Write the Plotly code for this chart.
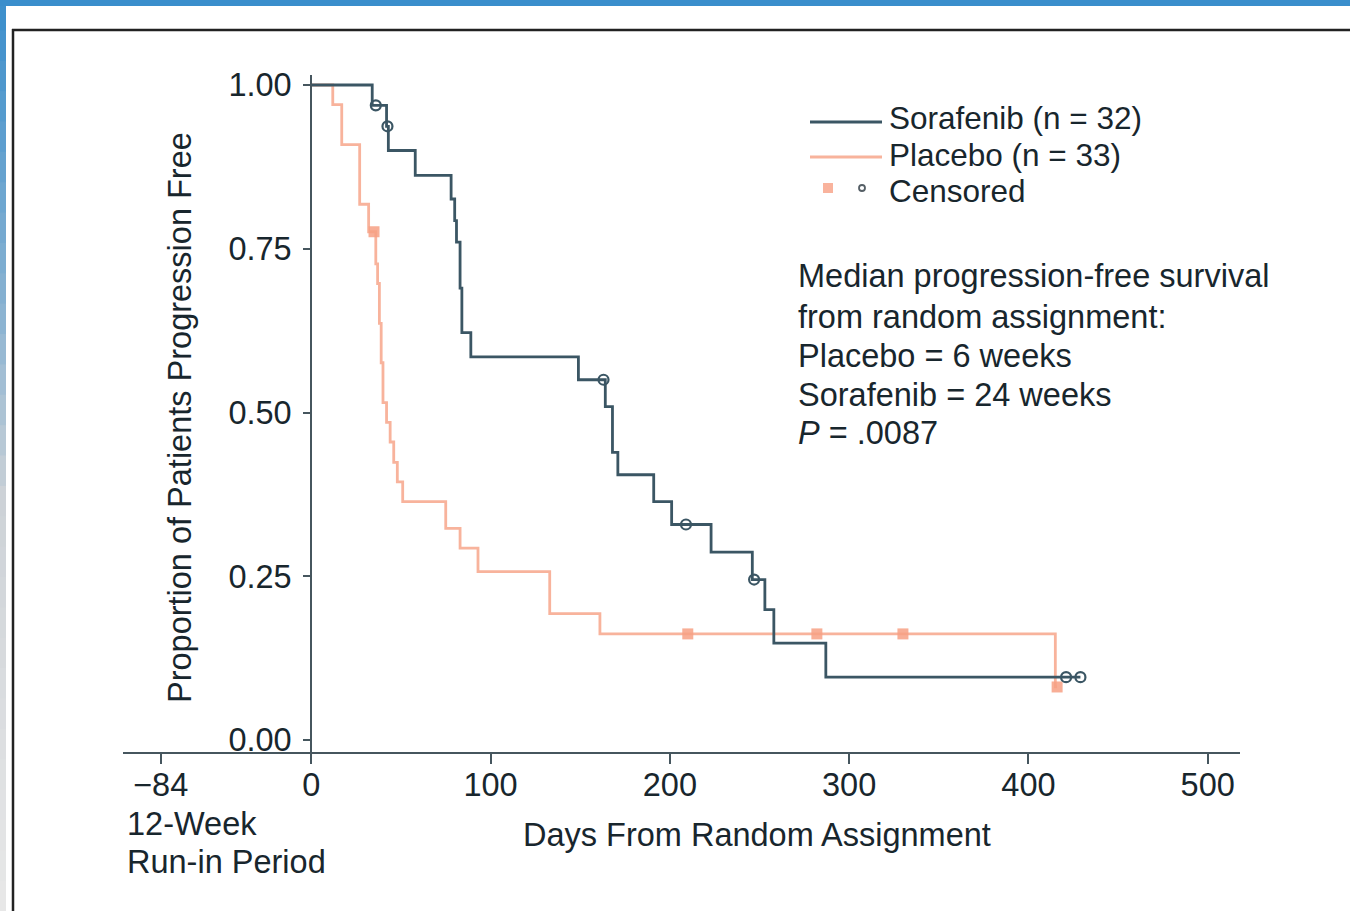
import plotly.graph_objects as go

# ---------------- data ----------------
soraf_time = [0, 34, 42, 43, 58, 78, 80, 81, 83, 84, 89, 149, 164, 168, 171, 191, 201, 223, 246, 253, 258, 287, 429]
soraf_surv = [1.0, 0.969, 0.937, 0.900, 0.862, 0.826, 0.793, 0.760, 0.690, 0.622, 0.585, 0.550, 0.509, 0.439,
              0.405, 0.364, 0.329, 0.287, 0.245, 0.199, 0.148, 0.096, 0.096]
soraf_cens_time = [36, 42.5, 163, 209, 247, 421, 429]
soraf_cens_surv = [0.969, 0.937, 0.550, 0.329, 0.245, 0.096, 0.096]

plac_time = [0, 12, 17, 27, 32, 36, 37, 38, 39, 40, 42, 44, 46, 48, 51, 75, 83, 93, 133, 161, 415, 416]
plac_surv = [1.0, 0.970, 0.909, 0.818, 0.776, 0.727, 0.697, 0.636, 0.576, 0.515, 0.485, 0.455, 0.424, 0.394,
             0.364, 0.323, 0.293, 0.257, 0.193, 0.162, 0.081, 0.081]
plac_cens_time = [35, 210, 282, 330, 416]
plac_cens_surv = [0.776, 0.162, 0.162, 0.162, 0.081]

x_tickvals = [-84, 0, 100, 200, 300, 400, 500]
x_ticktext = ["\u221284", "0", "100", "200", "300", "400", "500"]
y_tickvals = [0, 0.25, 0.5, 0.75, 1.0]
y_ticktext = ["0.00", "0.25", "0.50", "0.75", "1.00"]

legend_labels = ["Sorafenib (n = 32)", "Placebo (n = 33)", "Censored"]
note_lines = ["Median progression-free survival", "from random assignment:",
              "Placebo = 6 weeks", "Sorafenib = 24 weeks", "<i>P</i> = .0087"]

# ---------------- style ----------------
W, H = 1350, 911
L, R, T, B = 123, 1240, 75, 752
XR = [-105, 518]
YR = [-0.0183, 1.0153]
SOR = "#3b5664"
PLA = "#f8b39c"
PLA_M = "#f7a084"
TXT = "#18262d"
AX = "#46565e"
FONT = "Liberation Sans, Arial, sans-serif"
FS = 32.5
FS_LEG = 31.5


def xp(px):
    return (px - L) / (R - L)


def yp(py):
    return (B - py) / (B - T)


fig = go.Figure()

fig.add_trace(go.Scatter(x=plac_time, y=plac_surv, mode="lines", line=dict(shape="hv", color=PLA, width=2.8),
                         showlegend=False, hoverinfo="skip"))
fig.add_trace(go.Scatter(x=plac_cens_time, y=plac_cens_surv, mode="markers",
                         marker=dict(symbol="square", size=11, color=PLA_M, opacity=0.85),
                         showlegend=False, hoverinfo="skip"))
fig.add_trace(go.Scatter(x=soraf_time, y=soraf_surv, mode="lines", line=dict(shape="hv", color=SOR, width=2.8),
                         showlegend=False, hoverinfo="skip"))
fig.add_trace(go.Scatter(x=soraf_cens_time, y=soraf_cens_surv, mode="markers",
                         marker=dict(symbol="circle-open", size=10, color=SOR, line=dict(width=2.2, color=SOR)),
                         showlegend=False, hoverinfo="skip"))

shapes = []
# left gradient band
stops = [(0.0, (58, 142, 204)), (0.35, (140, 180, 210)), (0.55, (205, 210, 215)), (1.0, (232, 232, 232))]


def col_at(t):
    for (t0, c0), (t1, c1) in zip(stops[:-1], stops[1:]):
        if t0 <= t <= t1:
            f = (t - t0) / (t1 - t0)
            return "rgb(%d,%d,%d)" % tuple(round(a + (b - a) * f) for a, b in zip(c0, c1))
    return "rgb(232,232,232)"


NSEG = 30
for i in range(NSEG):
    y0 = H * i / NSEG
    y1 = H * (i + 1) / NSEG + 1
    shapes.append(dict(type="rect", xref="paper", yref="paper", x0=xp(0), x1=xp(6), y0=yp(y0), y1=yp(y1),
                       fillcolor=col_at((i + 0.5) / NSEG), line=dict(width=0), layer="below"))
shapes.append(dict(type="rect", xref="paper", yref="paper", x0=xp(0), x1=xp(W), y0=yp(0), y1=yp(6),
                   fillcolor="rgb(58,142,204)", line=dict(width=0), layer="below"))
# black frame
shapes.append(dict(type="line", xref="paper", yref="paper", x0=xp(12), x1=xp(W + 5), y0=yp(30), y1=yp(30),
                   line=dict(color="#222222", width=2.5)))
shapes.append(dict(type="line", xref="paper", yref="paper", x0=xp(13), x1=xp(13), y0=yp(29), y1=yp(H + 5),
                   line=dict(color="#222222", width=2.5)))
# legend samples
shapes.append(dict(type="line", xref="paper", yref="paper", x0=xp(810), x1=xp(882), y0=yp(122), y1=yp(122),
                   line=dict(color=SOR, width=2.8)))
shapes.append(dict(type="line", xref="paper", yref="paper", x0=xp(810), x1=xp(882), y0=yp(157), y1=yp(157),
                   line=dict(color=PLA, width=2.8)))
shapes.append(dict(type="rect", xref="paper", yref="paper", x0=xp(823), x1=xp(833), y0=yp(183), y1=yp(193),
                   fillcolor=PLA_M, opacity=0.8, line=dict(width=0)))
shapes.append(dict(type="circle", xref="paper", yref="paper", x0=xp(859), x1=xp(865), y0=yp(185), y1=yp(191),
                   line=dict(color="#555f66", width=1.8)))

ann = []


def text(px, py, s, xanchor="left", angle=0, size=FS):
    ann.append(dict(x=xp(px), y=yp(py), xref="paper", yref="paper", text=s, showarrow=False,
                    xanchor=xanchor, yanchor="middle", textangle=angle,
                    font=dict(family=FONT, size=size, color=TXT)))


for lab, py in zip(legend_labels, [118, 155, 191]):
    text(887, py, lab, size=FS_LEG)
for line, py in zip(note_lines, [276, 317, 356, 395, 433]):
    text(796, py, line)
text(125, 824, "12-Week")
text(125, 862, "Run-in Period")
text(757, 835, "Days From Random Assignment", xanchor="center")
text(180, 418, "Proportion of Patients Progression Free", xanchor="center", angle=-90)

fig.update_layout(
    width=W, height=H,
    margin=dict(l=L, r=W - R, t=T, b=H - B),
    paper_bgcolor="white", plot_bgcolor="white",
    showlegend=False,
    shapes=shapes, annotations=ann,
    xaxis=dict(range=XR, tickvals=x_tickvals, ticktext=x_ticktext, showgrid=False, zeroline=False,
               showline=True, linecolor=AX, linewidth=2.2, ticks="outside", ticklen=10, tickwidth=2,
               tickcolor=AX, tickfont=dict(family=FONT, size=FS, color=TXT), anchor="y",
               ticklabelstandoff=-7),
    yaxis=dict(range=YR, tickvals=y_tickvals, ticktext=y_ticktext, showgrid=False, zeroline=False,
               showline=True, linecolor=AX, linewidth=2.2, ticks="outside", ticklen=7, tickwidth=2,
               tickcolor=AX, tickfont=dict(family=FONT, size=FS, color=TXT),
               anchor="free", position=(0 - XR[0]) / (XR[1] - XR[0]), ticklabelstandoff=5),
)

fig.write_html("out.html", config={"displayModeBar": False},
               post_script="document.body.style.margin='0';document.body.style.overflow='hidden';")
